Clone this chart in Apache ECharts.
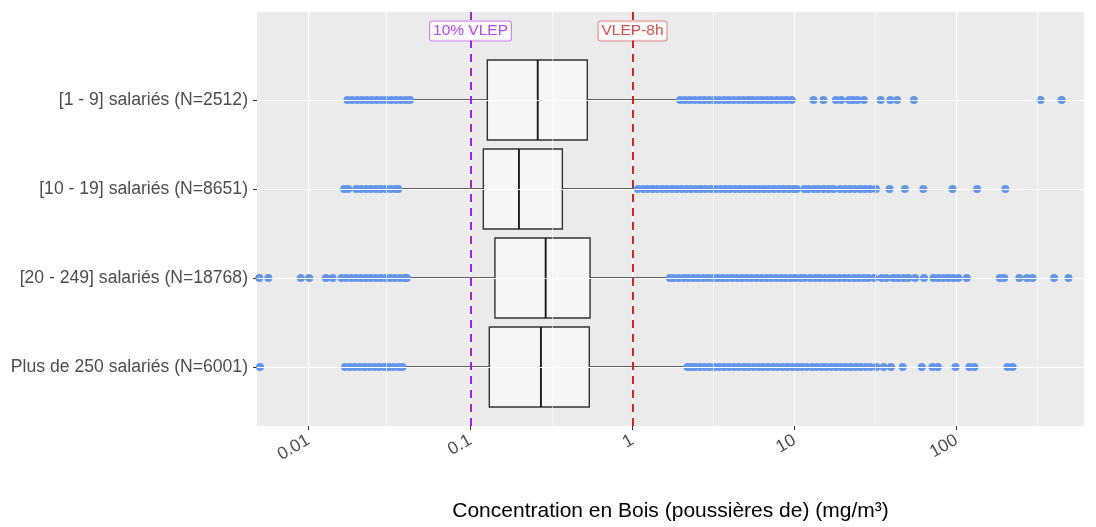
<!DOCTYPE html>
<html>
<head>
<meta charset="utf-8">
<script src="https://cdn.jsdelivr.net/npm/echarts@6/dist/echarts.min.js"></script>
<style>
html,body{margin:0;padding:0;background:#fff;}
#chart{width:1096px;height:527px;}
</style>
</head>
<body>
<div id="chart"></div>
<script>
// ---------- DATA ----------
const categories = [
  '[1 - 9] salariés (N=2512)',
  '[10 - 19] salariés (N=8651)',
  '[20 - 249] salariés (N=18768)',
  'Plus de 250 salariés (N=6001)'
];
const whiskerLow  = [0.0444, 0.0378, 0.042, 0.0395];
const q1          = [0.127, 0.120, 0.1415, 0.1306];
const median      = [0.260, 0.199, 0.291, 0.272];
const q3          = [0.526, 0.369, 0.547, 0.541];
const whiskerHigh = [1.9, 1.02, 1.62, 2.1];

const outliers1 = [
  0.0174,0.0186,0.02,0.0214,0.0229,0.0245,0.0263,0.0282,0.0302,0.0324,0.0347,0.0372,0.0398,0.0423,
  1.97,2.11,2.26,2.42,2.6,2.78,2.98,3.19,3.42,3.67,3.93,4.21,4.51,4.83,5.18,5.5,
  5.9,6.3,6.75,7.2,7.75,8.3,8.9,9.6,
  13.1,15.1,18,19.4,21.7,23,24.5,26.8,34,39,43,54.6,330,445
];
const outliers2 = [
  0.0166,0.0176,0.0197,0.0211,0.0226,0.0242,0.026,0.0278,0.0298,0.032,0.0342,0.0358,
  1.08,1.16,1.24,1.33,1.42,1.52,1.63,1.75,1.87,2.01,2.15,2.3,2.47,2.64,2.83,3.04,3.25,3.49,3.74,4.0,
  4.29,4.6,4.93,5.28,5.66,6.06,6.5,6.96,7.46,8.0,8.57,9.18,9.84,10.3,
  11.5,12.2,13.1,14.0,15.1,16.2,17.4,19.1,20.5,22.0,23.6,25.4,27.2,29.2,31.8,
  38.6,48,62.3,94.5,134,200
];
const outliers3 = [
  0.00497,0.00565,0.00896,0.0101,0.0128,0.0141,
  0.016,0.0171,0.0184,0.0197,0.0211,0.0226,0.0242,0.026,0.0278,0.0298,0.032,0.0342,0.0367,0.0393,0.0405,
  1.7,1.8,1.93,2.07,2.21,2.37,2.54,2.73,2.92,3.13,3.35,3.59,3.85,4.13,4.42,4.74,5.08,5.44,5.83,6.25,
  6.7,7.17,7.69,8.24,8.83,9.46,10.1,10.9,11.6,12.5,13.4,14.3,15.4,16.5,17.6,18.9,20.3,21.7,23.3,24.9,26.7,28.5,
  31,34.5,37,40.7,43.7,47,50.4,55.5,63,72,77.3,83,89,95.5,102.6,115.6,
  185,197,244,272,295,400,491
];
const outliers4 = [
  0.00502,0.0168,0.018,0.0193,0.0207,0.0222,0.0238,0.0255,0.0273,0.0293,0.0314,0.0336,0.036,0.038,
  2.18,2.3,2.43,2.61,2.79,2.99,3.21,3.44,3.68,3.95,4.23,4.53,4.86,5.2,5.58,5.98,6.4,6.86,7.36,7.88,8.45,9.05,9.7,
  10.4,11.1,11.9,12.8,13.7,14.7,15.7,16.9,18.1,19.4,20.7,22.2,23.8,25.5,27.4,29.3,
  32,35.5,39.4,46.5,61,71,76.6,98.6,120,129,206,222
];
const outlierSets = [outliers1, outliers2, outliers3, outliers4];

const xTicks = [0.01, 0.1, 1, 10, 100];
const minorBreaks = [0.0316, 0.316, 3.16, 31.6, 316];
const refValues = [0.1, 1];
const refLabels = ['10% VLEP', 'VLEP-8h'];
const refColors = ['#A020F0', '#CD2626'];
const xTitle = 'Concentration en Bois (poussières de) (mg/m³)';

// ---------- CHART ----------
const FONT = '"Liberation Sans", Arial, sans-serif';
const X_MIN = 0.00481, X_MAX = 612;
const chart = echarts.init(document.getElementById('chart'), null, {renderer: 'canvas'});

const boxData = categories.map((c, i) => [i, whiskerLow[i], q1[i], median[i], q3[i], whiskerHigh[i]]);
const scatterData = [];
outlierSets.forEach((arr, i) => arr.forEach(v => scatterData.push([v, i])));

const fmt = v => String(+(+v).toPrecision(6));

const option = {
  animation: false,
  backgroundColor: '#ffffff',
  textStyle: {fontFamily: FONT},
  grid: [
    {left: 257, right: 12, top: 12, height: 416, show: true, backgroundColor: '#EBEBEB', borderWidth: 0, containLabel: false},
    {left: 257, right: 12, top: 55.5, height: 356, show: false, containLabel: false}
  ],
  xAxis: [
    {
      type: 'log', logBase: 10, gridIndex: 0, min: X_MIN, max: X_MAX,
      axisLine: {show: false},
      axisTick: {show: true, length: 4, lineStyle: {color: '#333333', width: 1}, customValues: xTicks},
      axisLabel: {
        show: true, rotate: 30, margin: 13, fontSize: 17.5, color: '#4D4D4D', fontFamily: FONT,
        customValues: xTicks, formatter: fmt
      },
      splitLine: {show: true, lineStyle: {color: '#FFFFFF', width: 1.2}},
      name: xTitle, nameLocation: 'middle', nameGap: 75,
      nameTextStyle: {color: '#000000', fontSize: 21, fontFamily: FONT}
    },
    {
      type: 'log', logBase: 10, gridIndex: 1, min: X_MIN, max: X_MAX, show: false,
      splitLine: {show: false}
    }
  ],
  yAxis: [
    {type: 'value', gridIndex: 0, min: 0, max: 1, show: false, splitLine: {show: false}},
    {
      type: 'category', gridIndex: 1, data: categories, inverse: true,
      axisLine: {show: false},
      axisTick: {show: true, alignWithLabel: true, length: 4, lineStyle: {color: '#333333', width: 1}},
      axisLabel: {margin: 9, fontSize: 17.6, color: '#4D4D4D', fontFamily: FONT},
      splitLine: {show: false}
    }
  ],
  series: [
    {
      type: 'line', xAxisIndex: 1, yAxisIndex: 1, data: [], z: 1, silent: true,
      markLine: {
        silent: true, symbol: 'none', animation: false, label: {show: false},
        data: categories.map(c => ({yAxis: c, lineStyle: {color: '#FFFFFF', width: 1.2, type: 'solid'}}))
      }
    },
    {
      type: 'line', xAxisIndex: 0, yAxisIndex: 0, data: [], z: 1, silent: true,
      markLine: {
        silent: true, symbol: 'none', animation: false, label: {show: false},
        data: minorBreaks.map(v => ({xAxis: v, lineStyle: {color: '#FFFFFF', width: 0.6, type: 'solid'}}))
      }
    },
    {
      type: 'custom', xAxisIndex: 1, yAxisIndex: 1, z: 3,
      data: boxData,
      encode: {x: [1, 2, 3, 4, 5], y: 0},
      renderItem: function (params, api) {
        const yi = api.value(0);
        const band = api.size([0, 1])[1];
        const h = band * 0.9;
        const pLow = api.coord([api.value(1), yi]);
        const pQ1 = api.coord([api.value(2), yi]);
        const pMed = api.coord([api.value(3), yi]);
        const pQ3 = api.coord([api.value(4), yi]);
        const pHigh = api.coord([api.value(5), yi]);
        const cy = Math.round(pQ1[1]);
        const stroke = '#333333';
        return {
          type: 'group',
          children: [
            {type: 'line', shape: {x1: pLow[0], y1: cy, x2: pQ1[0], y2: cy}, style: {stroke: stroke, lineWidth: 1.5}},
            {type: 'line', shape: {x1: pQ3[0], y1: cy, x2: pHigh[0], y2: cy}, style: {stroke: stroke, lineWidth: 1.5}},
            {type: 'rect', shape: {x: pQ1[0], y: cy - h / 2, width: pQ3[0] - pQ1[0], height: h},
              style: {fill: '#F6F6F6', stroke: stroke, lineWidth: 1.4}},
            {type: 'line', shape: {x1: pMed[0], y1: cy - h / 2, x2: pMed[0], y2: cy + h / 2},
              style: {stroke: '#1A1A1A', lineWidth: 1.9}}
          ]
        };
      }
    },
    {
      type: 'scatter', xAxisIndex: 1, yAxisIndex: 1, z: 4,
      data: scatterData,
      symbol: 'circle', symbolSize: 8,
      itemStyle: {color: '#6495ED', opacity: 1},
      silent: true
    },
    {
      type: 'scatter', xAxisIndex: 0, yAxisIndex: 0, z: 10,
      data: refValues.map((v, i) => ({
        value: [v, 0.954],
        label: {
          show: true, position: 'inside', formatter: refLabels[i],
          color: refColors[i], fontSize: 15.5, fontFamily: FONT,
          backgroundColor: '#FFFFFF', borderColor: refColors[i] + '99', borderWidth: 1,
          borderRadius: 2, padding: [2, 3, 1, 3]
        }
      })),
      symbol: 'rect', symbolSize: 1,
      itemStyle: {color: 'transparent'},
      silent: true,
      markLine: {
        silent: true, symbol: 'none', animation: false, label: {show: false}, z: 9,
        data: refValues.map((v, i) => ({xAxis: v, lineStyle: {color: refColors[i], width: 2, type: [8, 6]}}))
      }
    }
  ]
};
chart.setOption(option);
</script>
</body>
</html>
